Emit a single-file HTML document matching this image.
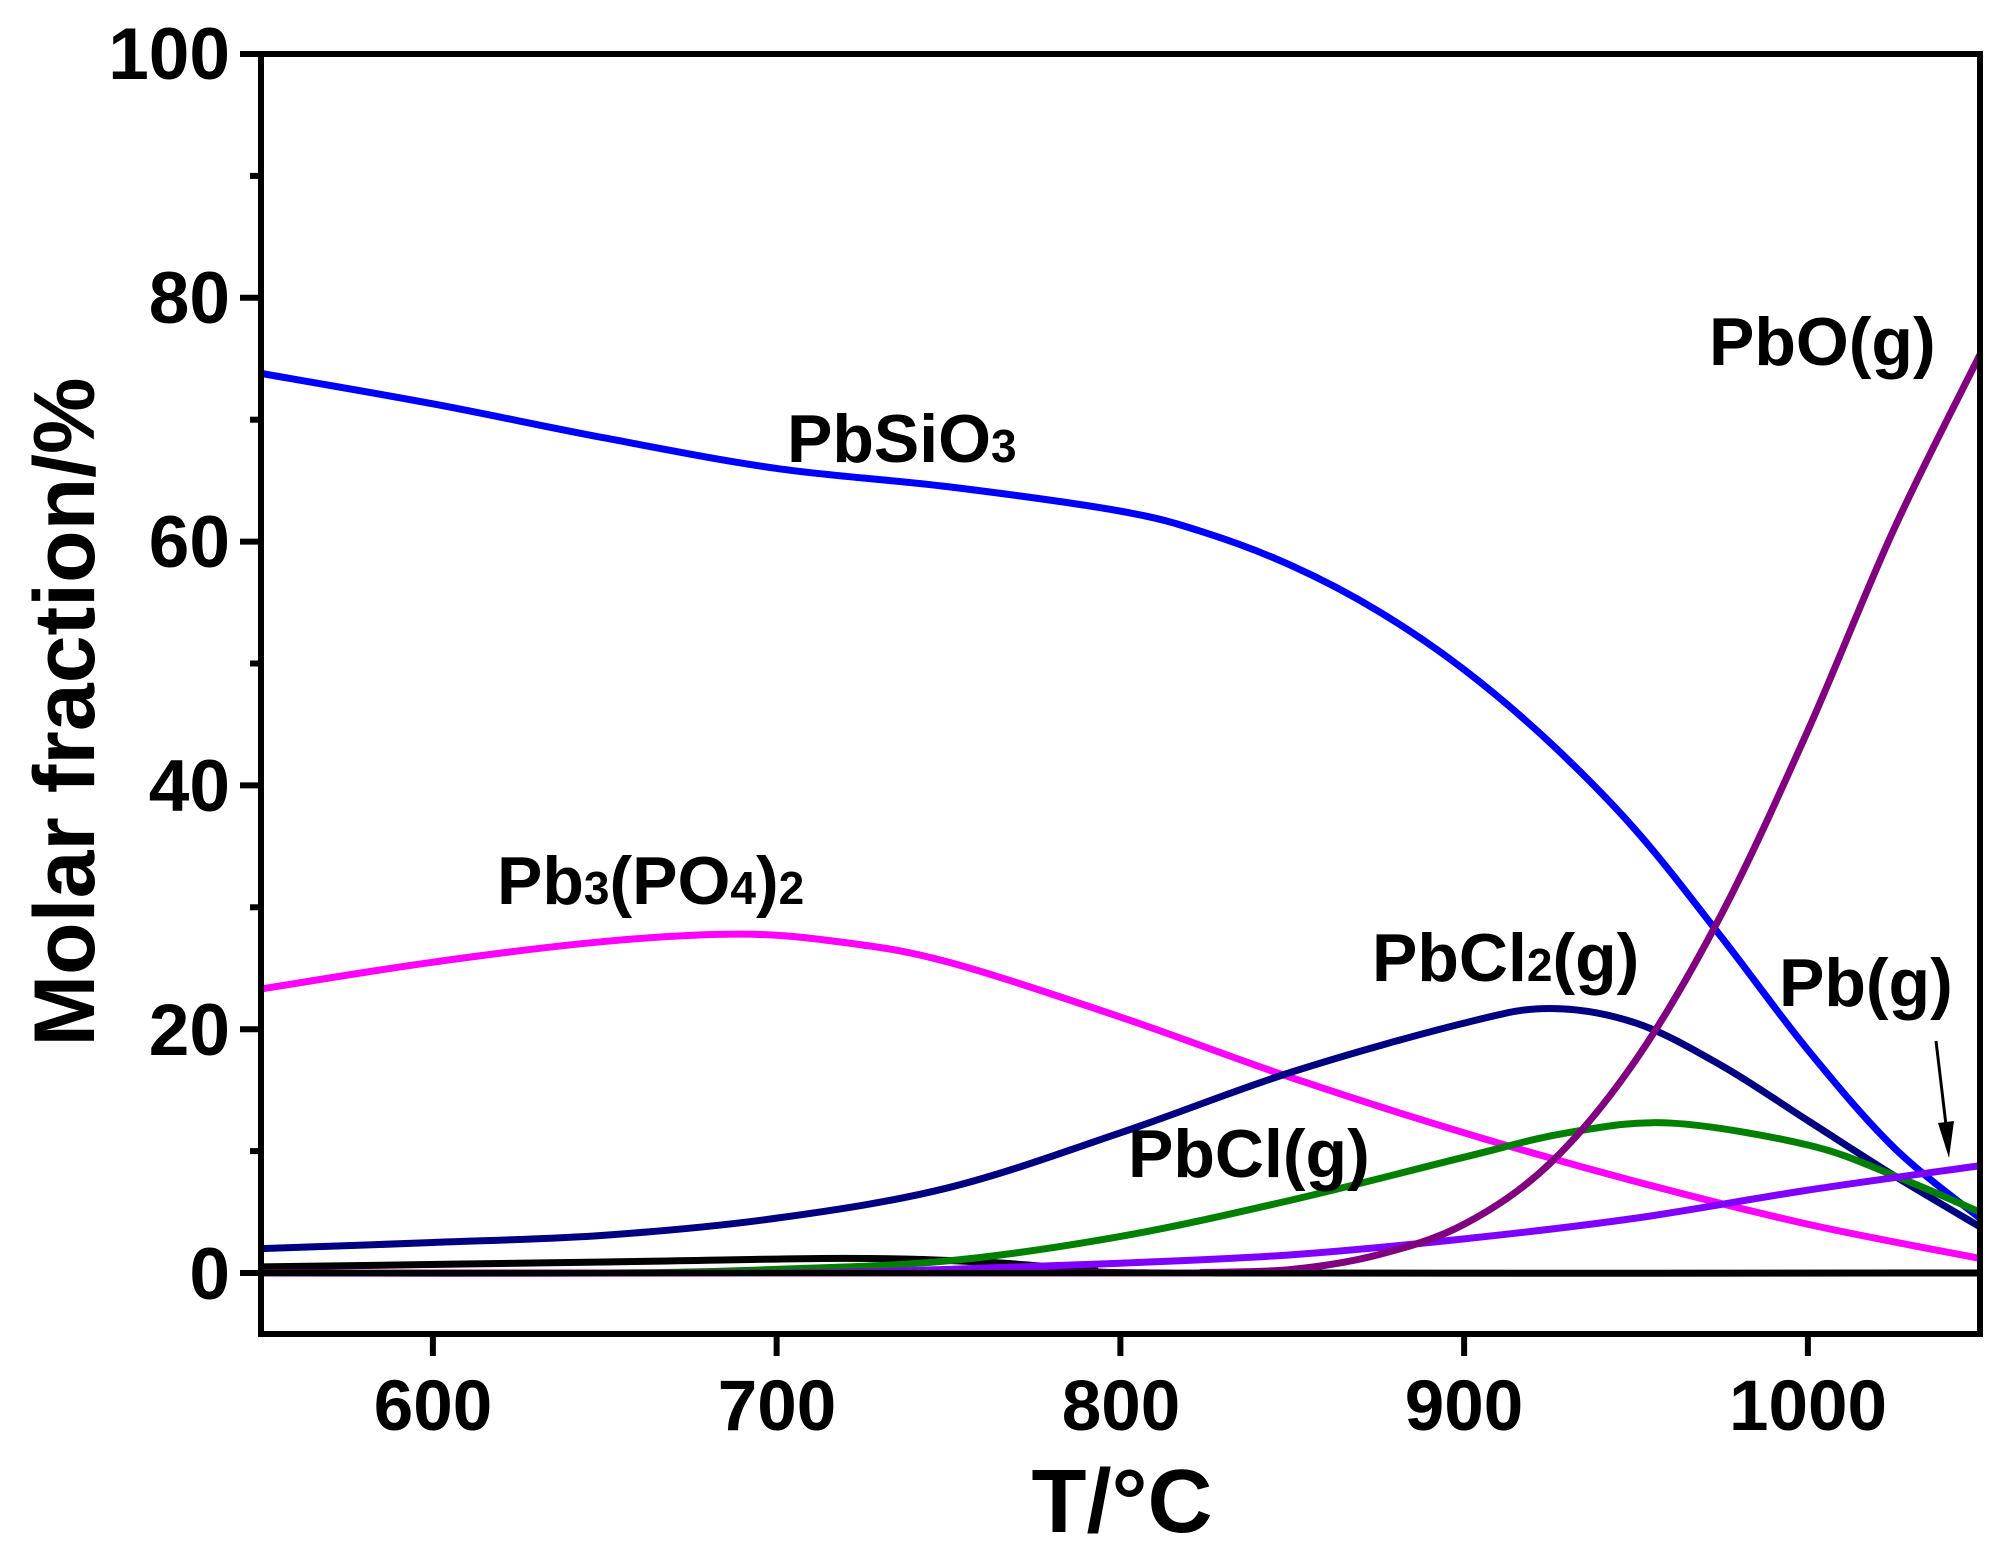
<!DOCTYPE html>
<html><head><meta charset="utf-8"><style>
html,body{margin:0;padding:0;background:#fff;}
svg{display:block;font-family:"Liberation Sans",sans-serif;font-weight:bold;}
</style></head><body>
<svg id="s" width="2010" height="1554" viewBox="0 0 2010 1554" xmlns="http://www.w3.org/2000/svg">
<g id="curves" fill="none" stroke-width="7" stroke-linejoin="round" stroke-linecap="butt"></g>
<line x1="261" y1="1273" x2="1980" y2="1273" stroke="#000" stroke-width="6"/>
<rect x="261" y="54" width="1719" height="1280" fill="none" stroke="#000" stroke-width="6"/>
<g id="ticks" stroke="#000" stroke-width="6"></g>
<g font-size="73" fill="#000" text-anchor="end">
<text x="230" y="79">100</text><text x="230" y="323">80</text><text x="230" y="567">60</text>
<text x="230" y="811">40</text><text x="230" y="1055">20</text><text x="230" y="1299">0</text>
</g>
<g font-size="71" fill="#000" text-anchor="middle">
<text x="433" y="1430">600</text><text x="777" y="1430">700</text><text x="1121" y="1430">800</text>
<text x="1464" y="1430">900</text><text x="1808" y="1430">1000</text>
</g>
<text x="1122" y="1532" font-size="90" text-anchor="middle">T/°C</text>
<text transform="translate(94,712) rotate(-90)" font-size="86" text-anchor="middle">Molar fraction/%</text>
<g font-size="68" fill="#000">
<text x="787" y="462">PbSiO<tspan font-size="46">3</tspan></text>
<text x="1709" y="365">PbO(g)</text>
<text x="497" y="904">Pb<tspan font-size="46">3</tspan>(PO<tspan font-size="46">4</tspan>)<tspan font-size="46">2</tspan></text>
<text x="1372" y="981">PbCl<tspan font-size="46">2</tspan>(g)</text>
<text x="1779" y="1006">Pb(g)</text>
<text x="1128" y="1177">PbCl(g)</text>
</g>
<line x1="1936" y1="1041" x2="1946" y2="1125" stroke="#000" stroke-width="3"/>
<polygon points="1938,1123 1954,1121 1949,1158" fill="#000"/>
</svg>
<script>
const X=v=>261+(v-550)*3.4375, Y=v=>1273-12.19*v;
const series=[
["#000000",[[550,0.5],[650,0.9],[720,1.2],[760,0.9],[790,0.3],[820,0],[1050,0]]],
["#ff00ff",[[550,23.3],[600,25.5],[650,27.2],[690,27.8],[720,27.1],[750,25.5],[800,21],[850,16],[900,11.5],[950,7.5],[1000,4],[1050,1.2]]],
["#0000ff",[[550,73.8],[600,71.3],[650,68.5],[700,66],[750,64.5],[800,62.5],[825,60.7],[850,58],[875,54.3],[900,49.5],[925,43.5],[950,36.3],[975,27.5],[1000,18.3],[1025,10.3],[1050,4.5]]],
["#000080",[[550,2],[600,2.5],[650,3.1],[700,4.5],[750,7],[800,11.5],[850,16.5],[900,20.5],[925,21.7],[950,20.5],[975,17],[1000,12.5],[1025,8],[1050,3.8]]],
["#008000",[[550,0],[650,0],[700,0.3],[750,1],[800,3],[850,6],[900,9.5],[930,11.5],[960,12.3],[1000,10.5],[1025,8],[1050,5]]],
["#8000ff",[[550,0],[700,0],[750,0.3],[800,0.8],[850,1.5],[900,2.8],[950,4.5],[1000,6.8],[1050,8.8]]],
["#800080",[[550,0],[800,0],[825,0.05],[850,0.3],[875,1.5],[900,4],[925,9],[950,17.5],[975,29.5],[1000,44.5],[1025,61],[1050,75.3]]]
];
const g=document.getElementById('curves');
for(const [c,pts] of series){
 const p=pts.map(([a,b])=>[X(a),Y(b)]);
 let d='M'+p[0][0]+','+p[0][1];
 for(let i=0;i<p.length-1;i++){
  const p0=p[Math.max(0,i-1)],p1=p[i],p2=p[i+1],p3=p[Math.min(p.length-1,i+2)];
  const c1=[p1[0]+(p2[0]-p0[0])/6,p1[1]+(p2[1]-p0[1])/6];
  const c2=[p2[0]-(p3[0]-p1[0])/6,p2[1]-(p3[1]-p1[1])/6];
  d+=' C'+c1+' '+c2+' '+p2;
 }
 const e=document.createElementNS('http://www.w3.org/2000/svg','path');
 e.setAttribute('d',d);e.setAttribute('stroke',c);g.appendChild(e);
}
const t=document.getElementById('ticks');
function L(x1,y1,x2,y2){const e=document.createElementNS('http://www.w3.org/2000/svg','line');
 e.setAttribute('x1',x1);e.setAttribute('y1',y1);e.setAttribute('x2',x2);e.setAttribute('y2',y2);t.appendChild(e);}
for(let v=0;v<=100;v+=10){const y=Y(v);L(261,y,v%20==0?240:250,y);}
for(let v=600;v<=1000;v+=100){const x=X(v);L(x,1334,x,1356);}
</script>
</body></html>
